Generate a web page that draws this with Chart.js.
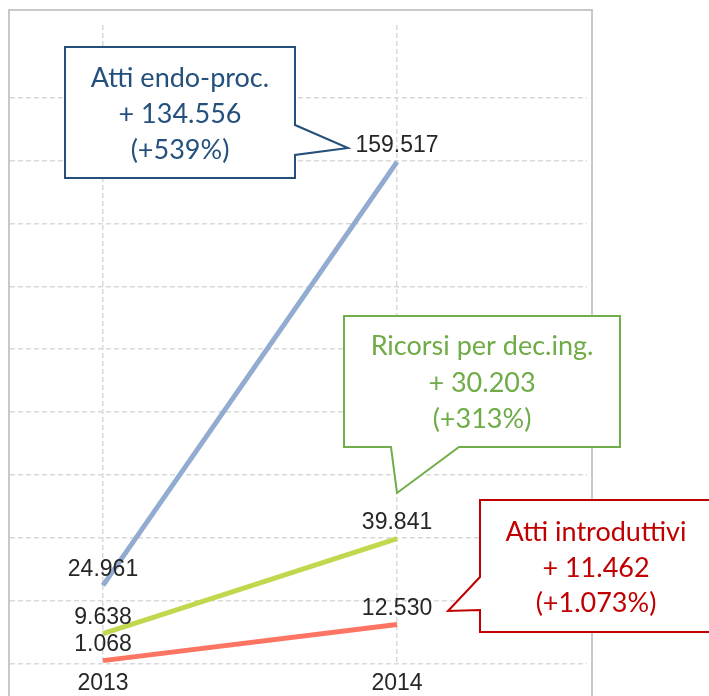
<!DOCTYPE html>
<html>
<head>
<meta charset="utf-8">
<script src="https://cdn.jsdelivr.net/npm/chart.js@4/dist/chart.umd.min.js"></script>
<style>
  html, body { margin: 0; padding: 0; background: #ffffff; }
  #wrap { width: 709px; height: 696px; position: relative; }
</style>
</head>
<body>
<div id="wrap"><canvas id="c" width="709" height="696"></canvas></div>
<script>
// ---- data ----
const categories = ['2013', '2014'];
const years = [2013, 2014];
const attiEndo = [24961, 159517];
const ricorsi = [9638, 39841];
const attiIntro = [1068, 12530];
const yTicks = [0, 20000, 40000, 60000, 80000, 100000, 120000, 140000, 160000, 180000];
const seriesNames = ['Atti endo-proc.', 'Ricorsi per dec.ing.', 'Atti introduttivi'];

function fmt(v) {
  return String(Math.round(v)).replace(/\B(?=(\d{3})+(?!\d))/g, '.');
}
function calloutLines(name, arr) {
  const diff = arr[1] - arr[0];
  const pct = Math.round(diff / arr[0] * 100);
  return [name, '+ ' + fmt(diff), '(+' + fmt(pct) + '%)'];
}

const toPts = arr => years.map((y, i) => ({ x: y, y: arr[i] }));

const gridColor = '#d9d9d9';

const outerBorder = {
  id: 'outerBorder',
  beforeDraw(chart) {
    const ctx = chart.ctx;
    ctx.save();
    ctx.strokeStyle = '#c8c8c8';
    ctx.lineWidth = 2;
    ctx.strokeRect(9, 10, 583, 720);
    ctx.restore();
  }
};

const dataLabels = {
  id: 'dataLabels',
  afterDatasetsDraw(chart) {
    const ctx = chart.ctx;
    ctx.save();
    ctx.font = '23px "Liberation Sans", Arial, sans-serif';
    ctx.fillStyle = '#262626';
    ctx.textAlign = 'center';
    ctx.textBaseline = 'middle';
    chart.data.datasets.forEach((ds, di) => {
      const meta = chart.getDatasetMeta(di);
      meta.data.forEach((pt, i) => {
        ctx.fillText(fmt(ds.data[i].y), pt.x, pt.y - 16);
      });
    });
    ctx.restore();
  }
};

const callouts = {
  id: 'callouts',
  afterDraw(chart) {
    const ctx = chart.ctx;
    const defs = [
      { color: '#25507b', text: '#24507d',
        path: [[65,47],[295,47],[295,125],[348,148],[295,155],[295,178],[65,178]],
        cx: 180, ys: [78, 114, 150], lines: calloutLines(seriesNames[0], attiEndo) },
      { color: '#72ad4b', text: '#6fab47',
        path: [[344,316],[620,316],[620,447],[459,447],[397,493],[391,447],[344,447]],
        cx: 482, ys: [346, 383, 419], lines: calloutLines(seriesNames[1], ricorsi) },
      { color: '#c00000', text: '#c00000',
        path: [[480,500],[714,500],[714,632],[480,632],[480,610],[448,611],[480,577]],
        cx: 596, ys: [532, 568, 603], lines: calloutLines(seriesNames[2], attiIntro) }
    ];
    ctx.save();
    defs.forEach(d => {
      ctx.beginPath();
      d.path.forEach((p, i) => i ? ctx.lineTo(p[0], p[1]) : ctx.moveTo(p[0], p[1]));
      ctx.closePath();
      ctx.fillStyle = '#ffffff';
      ctx.fill();
      ctx.lineWidth = 2;
      ctx.lineJoin = 'miter';
      ctx.strokeStyle = d.color;
      ctx.stroke();
      ctx.fillStyle = d.text;
      ctx.font = '27px Lato, "Noto Sans", sans-serif';
      ctx.textAlign = 'center';
      ctx.textBaseline = 'middle';
      d.lines.forEach((t, i) => ctx.fillText(t, d.cx, d.ys[i]));
    });
    ctx.restore();
  }
};

new Chart(document.getElementById('c'), {
  type: 'line',
  data: {
    datasets: [
      { label: seriesNames[0], data: toPts(attiEndo), borderColor: '#91acd0', borderWidth: 5 },
      { label: seriesNames[1], data: toPts(ricorsi), borderColor: '#c0d84e', borderWidth: 5 },
      { label: seriesNames[2], data: toPts(attiIntro), borderColor: '#fd7462', borderWidth: 5 }
    ]
  },
  options: {
    responsive: false,
    animation: false,
    devicePixelRatio: 1,
    layout: { padding: { top: 25, left: 10, right: 122, bottom: 0 } },
    elements: {
      line: { tension: 0, borderCapStyle: 'butt', fill: false },
      point: { radius: 0, hoverRadius: 0 }
    },
    plugins: { legend: { display: false }, tooltip: { enabled: false } },
    scales: {
      x: {
        type: 'linear',
        min: 2012.6837,
        max: 2014.646,
        afterBuildTicks: s => { s.ticks = years.map(v => ({ value: v })); },
        afterFit: s => { s.height = 32; },
        border: { display: false, dash: [5, 3] },
        grid: { color: gridColor, lineWidth: 1.5, drawTicks: false },
        ticks: {
          padding: 6,
          color: '#262626',
          font: { family: '"Liberation Sans", Arial, sans-serif', size: 23 },
          callback: (v) => categories[years.indexOf(v)] || ''
        }
      },
      y: {
        type: 'linear',
        min: 0,
        max: 203000,
        afterBuildTicks: s => { s.ticks = yTicks.map(v => ({ value: v })); },
        afterFit: s => { s.width = 0; },
        border: { display: false, dash: [5, 3] },
        grid: { color: gridColor, lineWidth: 1.5, drawTicks: false },
        ticks: { display: false }
      }
    }
  },
  plugins: [outerBorder, dataLabels, callouts]
});
</script>
</body>
</html>
